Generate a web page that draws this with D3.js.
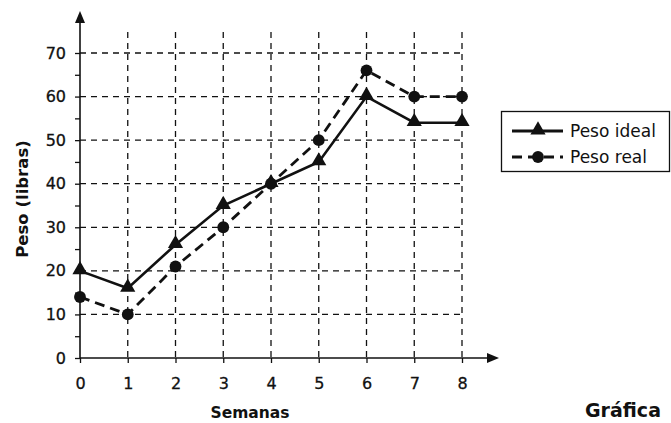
<!DOCTYPE html>
<html>
<head>
<meta charset="utf-8">
<script src="https://cdn.jsdelivr.net/npm/d3@7"></script>
<style>
  body { margin: 0; background: #fff; }
  text { font-family: "DejaVu Sans", Verdana, sans-serif; fill: #111; }
</style>
</head>
<body>
<div id="chart-area"></div>
<script>
// data
const semanas = [0, 1, 2, 3, 4, 5, 6, 7, 8];
const pesoIdeal = [20, 16, 26, 35, 40, 45, 60, 54, 54];
const pesoReal = [14, 10, 21, 30, 40, 50, 66, 60, 60];
const yTicks = [0, 10, 20, 30, 40, 50, 60, 70];
const seriesNames = ["Peso ideal", "Peso real"];

const full_width = 671, full_height = 423;

const svg = d3.select("#chart-area").append("svg")
    .attr("width", full_width).attr("height", full_height);

const x = d3.scaleLinear().domain([0, 8]).range([80, 462]);
const y = d3.scaleLinear().domain([0, 70]).range([358, 53]);

// grid
const grid = svg.append("g").attr("stroke", "#111").attr("stroke-width", 1.3)
    .attr("stroke-dasharray", "6,5");

grid.selectAll("line.h").data(yTicks.slice(1)).enter().append("line")
    .attr("class", "h")
    .attr("x1", x(0)).attr("x2", x(8))
    .attr("y1", d => y(d)).attr("y2", d => y(d));

grid.selectAll("line.v").data(semanas.slice(1)).enter().append("line")
    .attr("class", "v")
    .attr("x1", d => x(d)).attr("x2", d => x(d))
    .attr("y1", 32).attr("y2", y(0));

// axes
const yAxisCall = d3.axisLeft(y).tickValues(d3.range(0, 71, 5)).tickSize(5).tickFormat(d => d % 10 === 0 ? d : "");
const xAxisCall = d3.axisBottom(x).tickValues(semanas).tickSize(5).tickFormat(d => d);

const ya = svg.append("g").attr("transform", "translate(" + x(0) + ",0)").call(yAxisCall);
const xa = svg.append("g").attr("transform", "translate(0," + y(0) + ")").call(xAxisCall);

[ya, xa].forEach(a => {
    a.select(".domain").remove();
    a.selectAll(".tick line").attr("stroke", "#111").attr("stroke-width", 1.3);
    a.selectAll(".tick text").attr("font-size", "16px").attr("fill", "#111")
        .attr("stroke", "#111").attr("stroke-width", 0.3)
        .attr("font-family", "DejaVu Sans, Verdana, sans-serif");
});
ya.selectAll(".tick text").attr("x", -14);
xa.selectAll(".tick text").attr("y", 20);

// axis lines with arrows
svg.append("line").attr("x1", x(0)).attr("x2", x(0)).attr("y1", y(0)).attr("y2", 20)
    .attr("stroke", "#111").attr("stroke-width", 1.6);
svg.append("path").attr("d", "M" + x(0) + ",11 L" + (x(0) - 5) + ",23 L" + (x(0) + 5) + ",23 Z").attr("fill", "#111");

svg.append("line").attr("x1", x(0)).attr("x2", 490).attr("y1", y(0)).attr("y2", y(0))
    .attr("stroke", "#111").attr("stroke-width", 1.6);
svg.append("path").attr("d", "M499," + y(0) + " L487," + (y(0) - 5) + " L487," + (y(0) + 5) + " Z").attr("fill", "#111");

// series
const line = d3.line().x((d, i) => x(semanas[i])).y(d => y(d));

svg.append("path").datum(pesoReal).attr("d", line)
    .attr("fill", "none").attr("stroke", "#111").attr("stroke-width", 2.8)
    .attr("stroke-dasharray", "10,6");

svg.append("path").datum(pesoIdeal).attr("d", line)
    .attr("fill", "none").attr("stroke", "#111").attr("stroke-width", 2.6);

const tri = d3.symbol().type(d3.symbolTriangle).size(100);
const circ = d3.symbol().type(d3.symbolCircle).size(110);

svg.selectAll("path.tri").data(pesoIdeal).enter().append("path")
    .attr("class", "tri")
    .attr("d", tri)
    .attr("transform", (d, i) => "translate(" + x(semanas[i]) + "," + (y(d) - 1) + ")")
    .attr("fill", "#111");

svg.selectAll("path.circ").data(pesoReal).enter().append("path")
    .attr("class", "circ")
    .attr("d", circ)
    .attr("transform", (d, i) => "translate(" + x(semanas[i]) + "," + y(d) + ")")
    .attr("fill", "#111");

// labels
svg.append("text")
    .attr("x", 250).attr("y", 418)
    .attr("font-size", "15.5px").attr("font-weight", "bold")
    .attr("text-anchor", "middle")
    .text("Semanas");

svg.append("text")
    .attr("x", -199).attr("y", 28)
    .attr("font-size", "16.5px").attr("font-weight", "bold")
    .attr("text-anchor", "middle")
    .attr("transform", "rotate(-90)")
    .text("Peso (libras)");

svg.append("text")
    .attr("x", 585).attr("y", 417)
    .attr("font-size", "19px").attr("font-weight", "bold")
    .text("Gráfica");

// legend
const legend = svg.append("g");
legend.append("rect").attr("x", 501.5).attr("y", 111.5).attr("width", 168).attr("height", 60)
    .attr("fill", "#fff").attr("stroke", "#111").attr("stroke-width", 1.3);

const rows = [131, 157];
legend.append("line").attr("x1", 512).attr("x2", 563).attr("y1", rows[0]).attr("y2", rows[0])
    .attr("stroke", "#111").attr("stroke-width", 2.8);
legend.append("path").attr("d", tri).attr("transform", "translate(538," + (rows[0] - 1) + ")").attr("fill", "#111");
legend.append("line").attr("x1", 512).attr("x2", 563).attr("y1", rows[1]).attr("y2", rows[1])
    .attr("stroke", "#111").attr("stroke-width", 3).attr("stroke-dasharray", "10,6");
legend.append("path").attr("d", circ).attr("transform", "translate(538," + rows[1] + ")").attr("fill", "#111");

legend.selectAll("text.lg").data(seriesNames).enter().append("text")
    .attr("class", "lg")
    .attr("x", 570).attr("y", (d, i) => rows[i] + 6)
    .attr("font-size", "17px")
    .text(d => d);
</script>
</body>
</html>
